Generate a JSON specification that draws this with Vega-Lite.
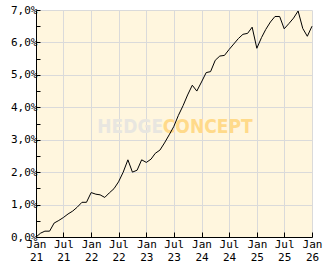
{
  "$schema": "https://vega.github.io/schema/vega-lite/v6.json",
  "width": 276,
  "height": 227,
  "autosize": {"type": "none"},
  "padding": {"left": 36, "top": 10, "right": 20, "bottom": 32},
  "background": "#FFFFFF",
  "config": {
    "view": {"fill": "#FFF6DE", "stroke": null},
    "axis": {
      "labelFont": "DejaVu Sans Mono",
      "labelFontSize": 11,
      "labelColor": "#000000",
      "domainColor": "#000000",
      "domainWidth": 1,
      "tickColor": "#000000",
      "tickWidth": 1,
      "gridColor": "#DADADA",
      "gridWidth": 1,
      "gridOpacity": 1,
      "title": null
    }
  },
  "encoding": {
    "x": {
      "field": "date", "type": "temporal",
      "scale": {"type": "utc", "domain": [{"year": 2021, "month": 1, "date": 1, "utc": true}, {"year": 2026, "month": 1, "date": 1, "utc": true}]},
      "axis": {
        "values": [
          {"year": 2021, "month": 1, "date": 1, "utc": true},
          {"year": 2021, "month": 7, "date": 1, "utc": true},
          {"year": 2022, "month": 1, "date": 1, "utc": true},
          {"year": 2022, "month": 7, "date": 1, "utc": true},
          {"year": 2023, "month": 1, "date": 1, "utc": true},
          {"year": 2023, "month": 7, "date": 1, "utc": true},
          {"year": 2024, "month": 1, "date": 1, "utc": true},
          {"year": 2024, "month": 7, "date": 1, "utc": true},
          {"year": 2025, "month": 1, "date": 1, "utc": true},
          {"year": 2025, "month": 7, "date": 1, "utc": true},
          {"year": 2026, "month": 1, "date": 1, "utc": true}
        ],
        "labelExpr": "[utcFormat(datum.value, '%b'), utcFormat(datum.value, '%y')]",
        "labelLineHeight": 13,
        "labelPadding": 6,
        "tickSize": -5,
        "grid": true,
        "labelFlush": false,
        "labelOverlap": false
      }
    },
    "y": {
      "field": "value", "type": "quantitative",
      "scale": {"domain": [0, 7], "nice": false},
      "axis": {
        "values": [0, 0.5, 1, 1.5, 2, 2.5, 3, 3.5, 4, 4.5, 5, 5.5, 6, 6.5, 7],
        "labelExpr": "datum.value % 1 === 0 ? replace(format(datum.value, '.1f'), '.', ',') + '%' : ''",
        "tickSize": -4,
        "labelPadding": 3,
        "grid": true,
        "gridOpacity": {"condition": {"test": "datum.value % 1 !== 0", "value": 0}, "value": 1},
        "labelFlush": false,
        "labelOverlap": false
      }
    }
  },
  "layer": [
    {
      "data": {"values": [
        {"date": "2022-02-10", "value": 3.22, "text": "HEDGE", "part": "a"},
        {"date": "2023-04-20", "value": 3.22, "text": "CONCEPT", "part": "b"}
      ]},
      "mark": {"type": "text", "align": "left", "baseline": "alphabetic", "font": "DejaVu Sans Condensed, Liberation Sans", "fontWeight": "bold", "fontSize": 19},
      "encoding": {
        "text": {"field": "text"},
        "color": {"field": "part", "type": "nominal", "scale": {"domain": ["a", "b"], "range": ["#E8E6E0", "#FFDA8A"]}, "legend": null}
      }
    },
    {
      "data": {"values": [
        {"date": "2021-01-01", "value": 0.0},
        {"date": "2021-02-01", "value": 0.12},
        {"date": "2021-03-01", "value": 0.18},
        {"date": "2021-04-01", "value": 0.18},
        {"date": "2021-05-01", "value": 0.43},
        {"date": "2021-06-01", "value": 0.51},
        {"date": "2021-07-01", "value": 0.6},
        {"date": "2021-08-01", "value": 0.71},
        {"date": "2021-09-01", "value": 0.8},
        {"date": "2021-10-01", "value": 0.92},
        {"date": "2021-11-01", "value": 1.07},
        {"date": "2021-12-01", "value": 1.07},
        {"date": "2022-01-01", "value": 1.37},
        {"date": "2022-02-01", "value": 1.32},
        {"date": "2022-03-01", "value": 1.3},
        {"date": "2022-04-01", "value": 1.22},
        {"date": "2022-05-01", "value": 1.36},
        {"date": "2022-06-01", "value": 1.49},
        {"date": "2022-07-01", "value": 1.7},
        {"date": "2022-08-01", "value": 2.0},
        {"date": "2022-09-01", "value": 2.38},
        {"date": "2022-10-01", "value": 2.0},
        {"date": "2022-11-01", "value": 2.06},
        {"date": "2022-12-01", "value": 2.38},
        {"date": "2023-01-01", "value": 2.3},
        {"date": "2023-02-01", "value": 2.4},
        {"date": "2023-03-01", "value": 2.58},
        {"date": "2023-04-01", "value": 2.68},
        {"date": "2023-05-01", "value": 2.9},
        {"date": "2023-06-01", "value": 3.15},
        {"date": "2023-07-01", "value": 3.4},
        {"date": "2023-08-01", "value": 3.75},
        {"date": "2023-09-01", "value": 4.05},
        {"date": "2023-10-01", "value": 4.38},
        {"date": "2023-11-01", "value": 4.68},
        {"date": "2023-12-01", "value": 4.5},
        {"date": "2024-01-01", "value": 4.78},
        {"date": "2024-02-01", "value": 5.07},
        {"date": "2024-03-01", "value": 5.1},
        {"date": "2024-04-01", "value": 5.45},
        {"date": "2024-05-01", "value": 5.58},
        {"date": "2024-06-01", "value": 5.6},
        {"date": "2024-07-01", "value": 5.78},
        {"date": "2024-08-01", "value": 5.95},
        {"date": "2024-09-01", "value": 6.12},
        {"date": "2024-10-01", "value": 6.25},
        {"date": "2024-11-01", "value": 6.28},
        {"date": "2024-12-01", "value": 6.47},
        {"date": "2025-01-01", "value": 5.82},
        {"date": "2025-02-01", "value": 6.15},
        {"date": "2025-03-01", "value": 6.4},
        {"date": "2025-04-01", "value": 6.63},
        {"date": "2025-05-01", "value": 6.8},
        {"date": "2025-06-01", "value": 6.8},
        {"date": "2025-07-01", "value": 6.42},
        {"date": "2025-08-01", "value": 6.58},
        {"date": "2025-09-01", "value": 6.75},
        {"date": "2025-10-01", "value": 6.97},
        {"date": "2025-11-01", "value": 6.43},
        {"date": "2025-12-01", "value": 6.19},
        {"date": "2026-01-01", "value": 6.5}
      ]},
      "mark": {"type": "line", "color": "#000000", "strokeWidth": 1, "interpolate": "linear"}
    }
  ]
}
